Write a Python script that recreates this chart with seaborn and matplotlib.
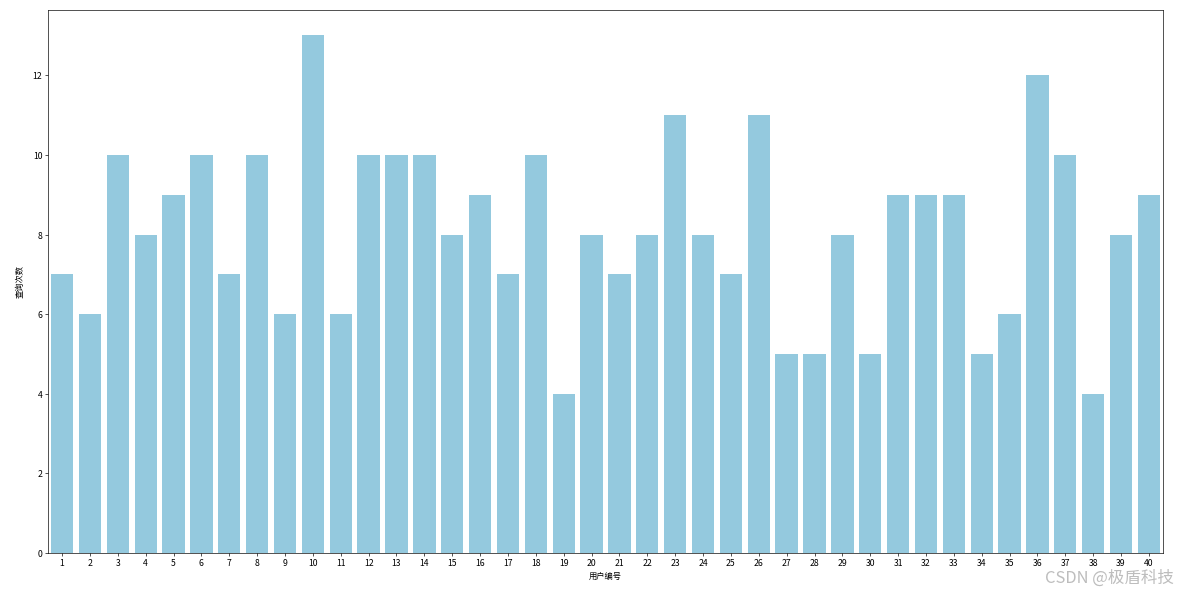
import pandas as pd
import seaborn as sns
import matplotlib
matplotlib.use("Agg")
import matplotlib.pyplot as plt

plt.rcParams['font.family'] = ['Noto Sans CJK SC', 'DejaVu Sans']
plt.rcParams['axes.unicode_minus'] = False

user_ids = list(range(1, 41))
query_counts = [7, 6, 10, 8, 9, 10, 7, 10, 6, 13,
                6, 10, 10, 10, 8, 9, 7, 10, 4, 8,
                7, 8, 11, 8, 7, 11, 5, 5, 8, 5,
                9, 9, 9, 5, 6, 12, 10, 4, 8, 9]

df = pd.DataFrame({"用户编号": user_ids, "查询次数": query_counts})

fig = plt.figure(figsize=(20, 10), dpi=59.45)
ax = sns.barplot(data=df, x="用户编号", y="查询次数", color="skyblue")
ax.tick_params(labelsize=10.5)
plt.xlabel("用户编号", fontsize=10)
plt.ylabel("查询次数", fontsize=10, labelpad=10)
plt.subplots_adjust(left=0.0405, right=0.978, top=0.983, bottom=0.069)

# watermark from the source image
fig.text(0.987, 0.028, "CSDN @极盾科技", ha="right", va="center",
         fontsize=20, color="#bdbdbd")

plt.savefig("out.png", dpi=59.45)
